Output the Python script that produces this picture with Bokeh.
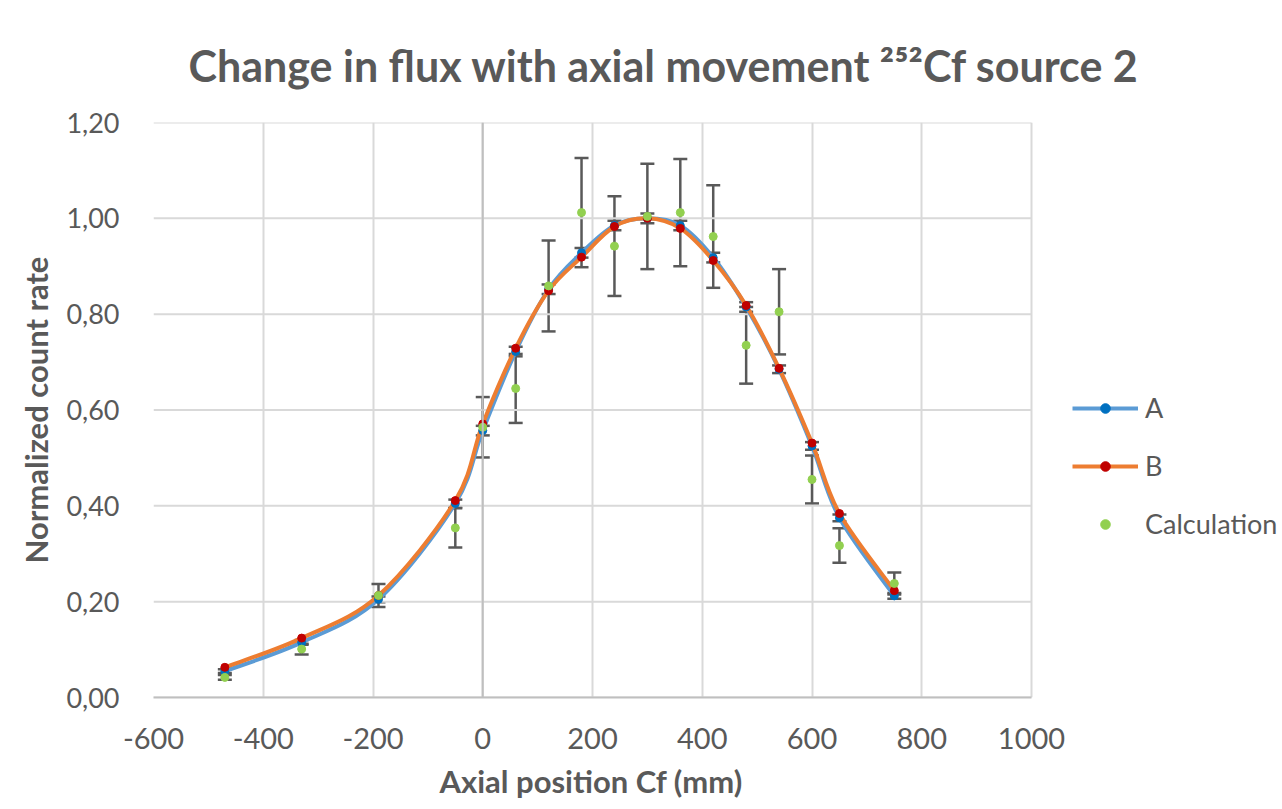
from bokeh.plotting import figure
from bokeh.models import (ColumnDataSource, Whisker, TeeHead, Legend, LegendItem,
                          FixedTicker, Span, Range1d, Title)
from bokeh.embed import file_html
from bokeh.resources import INLINE

# ---- data ----
positions = [-470, -330, -190, -50, 0, 60, 120, 180, 240, 300, 360, 420, 480, 540, 600, 650, 750]
series_a = [0.055, 0.115, 0.205, 0.405, 0.557, 0.722, 0.852, 0.928, 0.985, 1.000, 0.985, 0.918,
            0.815, 0.685, 0.525, 0.375, 0.212]
series_a_err = [0.004, 0.005, 0.006, 0.008, 0.010, 0.010, 0.010, 0.010, 0.010, 0.010, 0.010, 0.010,
                0.010, 0.008, 0.008, 0.007, 0.006]
series_b = [0.063, 0.124, 0.213, 0.411, 0.571, 0.729, 0.849, 0.919, 0.983, 1.000, 0.979, 0.912,
            0.818, 0.687, 0.531, 0.384, 0.223]
calculation = [0.042, 0.101, 0.213, 0.354, 0.564, 0.645, 0.859, 1.012, 0.942, 1.004, 1.012, 0.962,
               0.735, 0.805, 0.455, 0.317, 0.238]
calculation_err = [0.005, 0.011, 0.024, 0.041, 0.063, 0.072, 0.095, 0.114, 0.104, 0.110, 0.112, 0.107,
                   0.080, 0.089, 0.050, 0.036, 0.023]

y_ticks = [0.0, 0.2, 0.4, 0.6, 0.8, 1.0, 1.2]
y_tick_labels = ["0,00", "0,20", "0,40", "0,60", "0,80", "1,00", "1,20"]
x_ticks = [-600, -400, -200, 0, 200, 400, 600, 800, 1000]
x_tick_labels = ["-600", "-400", "-200", "0", "200", "400", "600", "800", "1000"]
series_names = ["A", "B", "Calculation"]

X_MIN, X_MAX = -600, 1000
Y_MIN, Y_MAX = 0.0, 1.2

TITLE = "Change in flux with axial movement \u00b2\u2075\u00b2Cf source 2"
X_LABEL = "Axial position  Cf (mm)"
Y_LABEL = "Normalized count rate"
FONT = "Lato"
GRAY = "#595959"
GRID = "#d9d9d9"
BLUE_LINE, BLUE_MARK = "#5b9bd5", "#0070c0"
ORANGE_LINE, RED_MARK = "#ed7d31", "#c00000"
GREEN_MARK = "#92d050"

# layout: plot area 153..1031 px wide inside a 1282 px canvas; the frame is extended
# to the right edge so the legend can sit beside the chart without being clipped
W, H = 1282, 809
LEFT, TOP, BOTTOM = 153, 122, 112
AREA_W = 878
FRAME_W = W - LEFT
x_end = X_MIN + (X_MAX - X_MIN) * FRAME_W / AREA_W


def smooth_segments(xs, ys):
    """Bezier segments through the data points (spreadsheet-style smoothed line)."""
    n = len(xs)
    d = dict(x0=[], y0=[], x1=[], y1=[], cx0=[], cy0=[], cx1=[], cy1=[])
    for i in range(n - 1):
        a = max(i - 1, 0)
        b = min(i + 2, n - 1)
        d["x0"].append(xs[i]); d["y0"].append(ys[i])
        d["x1"].append(xs[i + 1]); d["y1"].append(ys[i + 1])
        d["cx0"].append(xs[i] + (xs[i + 1] - xs[a]) / 6.0)
        d["cy0"].append(ys[i] + (ys[i + 1] - ys[a]) / 6.0)
        d["cx1"].append(xs[i + 1] - (xs[b] - xs[i]) / 6.0)
        d["cy1"].append(ys[i + 1] - (ys[b] - ys[i]) / 6.0)
    return ColumnDataSource(d)


src = ColumnDataSource(dict(
    x=positions, a=series_a, b=series_b, c=calculation,
    a_lo=[v - e for v, e in zip(series_a, series_a_err)],
    a_hi=[v + e for v, e in zip(series_a, series_a_err)],
    c_lo=[v - e for v, e in zip(calculation, calculation_err)],
    c_hi=[v + e for v, e in zip(calculation, calculation_err)],
))

p = figure(width=W, height=H, output_backend="svg", toolbar_location=None,
           x_range=Range1d(X_MIN, x_end), y_range=Range1d(Y_MIN, Y_MAX),
           min_border_left=LEFT, min_border_right=0, min_border_top=TOP, min_border_bottom=BOTTOM)
p.outline_line_color = None
p.background_fill_color = "white"
p.border_fill_color = "white"

# title
p.title.text = TITLE
p.title.text_font = FONT
p.title.text_font_size = "43px"
p.title.text_font_style = "bold"
p.title.text_color = GRAY
p.title.align = "left"
p.title.offset = 35
p.title.standoff = 64

# axes
for ax in (p.xaxis[0], p.yaxis[0]):
    ax.axis_line_color = None
    ax.major_tick_line_color = None
    ax.minor_tick_line_color = None
    ax.major_label_text_font = FONT
    ax.major_label_text_color = GRAY
    ax.axis_label_text_font = FONT
    ax.axis_label_text_font_style = "bold"
    ax.axis_label_text_color = GRAY

p.xaxis.ticker = FixedTicker(ticks=x_ticks)
p.xaxis.bounds = (X_MIN, X_MAX)
p.xaxis.major_label_overrides = {t: l for t, l in zip(x_ticks, x_tick_labels)}
p.xaxis.major_label_text_font_size = "29px"
p.xaxis.major_label_standoff = 24
p.xaxis.axis_line_color = "#bfbfbf"
p.xaxis.axis_line_width = 2

p.add_layout(Title(text=X_LABEL, text_font=FONT, text_font_size="31px", text_font_style="bold",
                   text_color=GRAY, align="left", offset=286, standoff=16), "below")

p.yaxis.ticker = FixedTicker(ticks=y_ticks)
p.yaxis.major_label_overrides = {t: l for t, l in zip(y_ticks, y_tick_labels)}
p.yaxis.major_label_text_font_size = "27px"
p.yaxis.major_label_standoff = 28
p.yaxis.axis_label = Y_LABEL
p.yaxis.axis_label_text_font_size = "31px"
p.yaxis.axis_label_standoff = 8

# grid: vertical lines from the x grid, horizontal lines limited to the plot area
p.xgrid.ticker = FixedTicker(ticks=x_ticks)
p.xgrid.grid_line_color = GRID
p.xgrid.grid_line_width = 2
p.ygrid.visible = False
p.segment(x0=[X_MIN] * len(y_ticks), x1=[X_MAX] * len(y_ticks), y0=y_ticks, y1=y_ticks,
          line_color=GRID, line_width=2)

p.add_layout(Span(location=0, dimension="height", line_color="#bfbfbf", line_width=2))

# smoothed lines
seg_a = smooth_segments(positions, series_a)
seg_b = smooth_segments(positions, series_b)
line_a = p.bezier(x0="x0", y0="y0", x1="x1", y1="y1", cx0="cx0", cy0="cy0", cx1="cx1", cy1="cy1",
                  source=seg_a, line_color=BLUE_LINE, line_width=4)

# error bars
wa = Whisker(source=src, base="x", lower="a_lo", upper="a_hi", line_color=GRAY, line_width=2.5,
             upper_head=TeeHead(size=14, line_color=GRAY, line_width=2.5),
             lower_head=TeeHead(size=14, line_color=GRAY, line_width=2.5))
p.add_layout(wa)

line_b = p.bezier(x0="x0", y0="y0", x1="x1", y1="y1", cx0="cx0", cy0="cy0", cx1="cx1", cy1="cy1",
                  source=seg_b, line_color=ORANGE_LINE, line_width=4)

wc = Whisker(source=src, base="x", lower="c_lo", upper="c_hi", line_color=GRAY, line_width=2.5,
             upper_head=TeeHead(size=14, line_color=GRAY, line_width=2.5),
             lower_head=TeeHead(size=14, line_color=GRAY, line_width=2.5))
p.add_layout(wc)

mk_a = p.scatter("x", "a", source=src, size=8, fill_color=BLUE_MARK, line_color=BLUE_MARK)
mk_b = p.scatter("x", "b", source=src, size=8, fill_color=RED_MARK, line_color=RED_MARK)
mk_c = p.scatter("x", "c", source=src, size=8, fill_color=GREEN_MARK, line_color=GREEN_MARK)

legend = Legend(items=[
    LegendItem(label=series_names[0], renderers=[line_a, mk_a]),
    LegendItem(label=series_names[1], renderers=[line_b, mk_b]),
    LegendItem(label=series_names[2], renderers=[mk_c]),
], location=(919, 157))
legend.padding = 0
legend.margin = 0
legend.spacing = 25
legend.glyph_width = 66
legend.glyph_height = 24
legend.label_height = 32
legend.label_standoff = 7
legend.label_text_font = FONT
legend.label_text_font_size = "27px"
legend.label_text_color = GRAY
legend.border_line_color = None
legend.background_fill_alpha = 0
p.add_layout(legend, "center")

open("out.html", "w").write(file_html(p, INLINE))
